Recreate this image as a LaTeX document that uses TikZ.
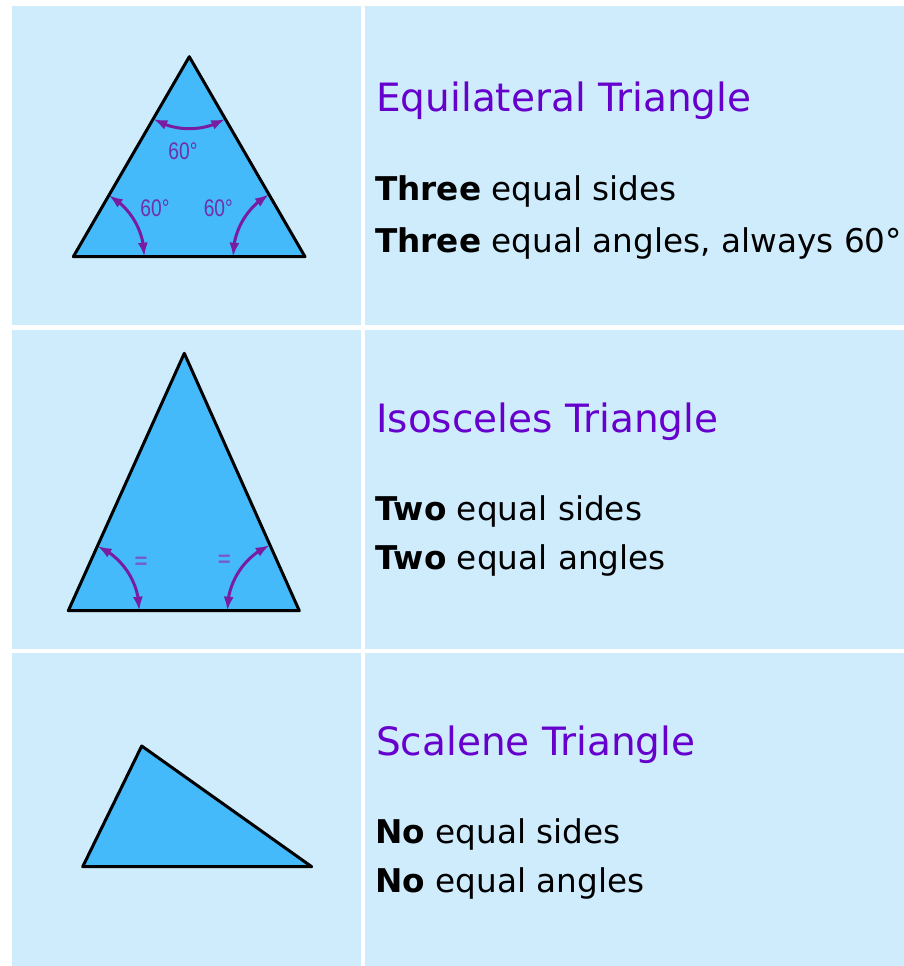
\documentclass[tikz,border=0pt]{standalone}
\usepackage{fontspec}
\setmainfont{DejaVu Sans}
\newfontfamily\labfont{Liberation Sans}
\usetikzlibrary{calc,arrows.meta,bending}
\definecolor{cellbg}{RGB}{207,236,253}
\definecolor{trifill}{RGB}{68,186,250}
\definecolor{arccol}{RGB}{122,28,160}
\definecolor{labcol}{RGB}{112,48,168}
\definecolor{eqcol}{RGB}{120,90,205}
\definecolor{titlecol}{RGB}{102,0,204}
\begin{document}
\begin{tikzpicture}[x=1pt,y=-1pt,
  tri/.style={fill=trifill, draw=black, line width=3pt, line join=round},
  anglearc/.style={draw=arccol, line width=3pt, {Latex[length=14pt,width=10pt]}-{Latex[length=14pt,width=10pt]}},
  titletext/.style={anchor=base west, inner sep=0pt, text=titlecol, font=\fontsize{39}{44}\selectfont},
  bodytext/.style={anchor=base west, inner sep=0pt, text=black, font=\fontsize{32.7}{38}\selectfont},
  deglab/.style={text=labcol, font=\labfont\fontsize{24}{26}\selectfont, xscale=0.8, inner sep=0pt},
  eqlab/.style={text=eqcol, font=\labfont\bfseries\fontsize{22}{24}\selectfont, inner sep=0pt}]
\fill[white] (0,0) rectangle (904,966);
\useasboundingbox (0,0) rectangle (904,966);
% cells
\fill[cellbg] (12,6) rectangle (361,325);
\fill[cellbg] (365,6) rectangle (904,325);
\fill[cellbg] (12,330) rectangle (361,649);
\fill[cellbg] (365,330) rectangle (904,649);
\fill[cellbg] (12,653) rectangle (361,966);
\fill[cellbg] (365,653) rectangle (904,966);
% equilateral
\coordinate (eA) at (189.3,56.7);
\coordinate (eB) at (73.3,256.7);
\coordinate (eC) at (305,256.7);
\draw[tri] (eA) -- (eB) -- (eC) -- cycle;
\draw[anglearc] ($(eA)+(60:72)$) arc[start angle=60,end angle=120,radius=72];
\draw[anglearc] ($(eB)+(0:71)$) arc[start angle=0,end angle=-60,radius=71];
\draw[anglearc] ($(eC)+(180:72)$) arc[start angle=180,end angle=240,radius=72];
\node[deglab] (d1) at (183,151.5) {60°};
\node[deglab] (d2) at (155,208.3) {60°};
\node[deglab] (d3) at (218.3,208.3) {60°};
% isosceles
\coordinate (iA) at (184.3,353.3);
\coordinate (iB) at (68.3,610.7);
\coordinate (iC) at (299.3,610.7);
\draw[tri] (iA) -- (iB) -- (iC) -- cycle;
\draw[anglearc] ($(iB)+(0:71)$) arc[start angle=0,end angle=-65.7,radius=71];
\draw[anglearc] ($(iC)+(180:72)$) arc[start angle=180,end angle=245.7,radius=72];
\node[eqlab] (q1) at (141,562.7) {=};
\node[eqlab] (q2) at (224.3,560.7) {=};
% scalene
\coordinate (sA) at (141.7,746);
\coordinate (sB) at (82.7,866.7);
\coordinate (sC) at (311.7,866.7);
\draw[tri] (sA) -- (sB) -- (sC) -- cycle;
% texts
\node[titletext] (t1) at (376,111) {Equilateral Triangle};
\node[bodytext] (b1a) at (375,200.5) {\textbf{Three} equal sides};
\node[bodytext] (b1b) at (375,252) {\textbf{Three} equal angles, always 60°};
\node[titletext] (t2) at (376,432) {Isosceles Triangle};
\node[bodytext] (b2a) at (375,520) {\textbf{Two} equal sides};
\node[bodytext] (b2b) at (375,569) {\textbf{Two} equal angles};
\node[titletext] (t3) at (376,755) {Scalene Triangle};
\node[bodytext] (b3a) at (375,843) {\textbf{No} equal sides};
\node[bodytext] (b3b) at (375,892) {\textbf{No} equal angles};
\end{tikzpicture}
\end{document}
